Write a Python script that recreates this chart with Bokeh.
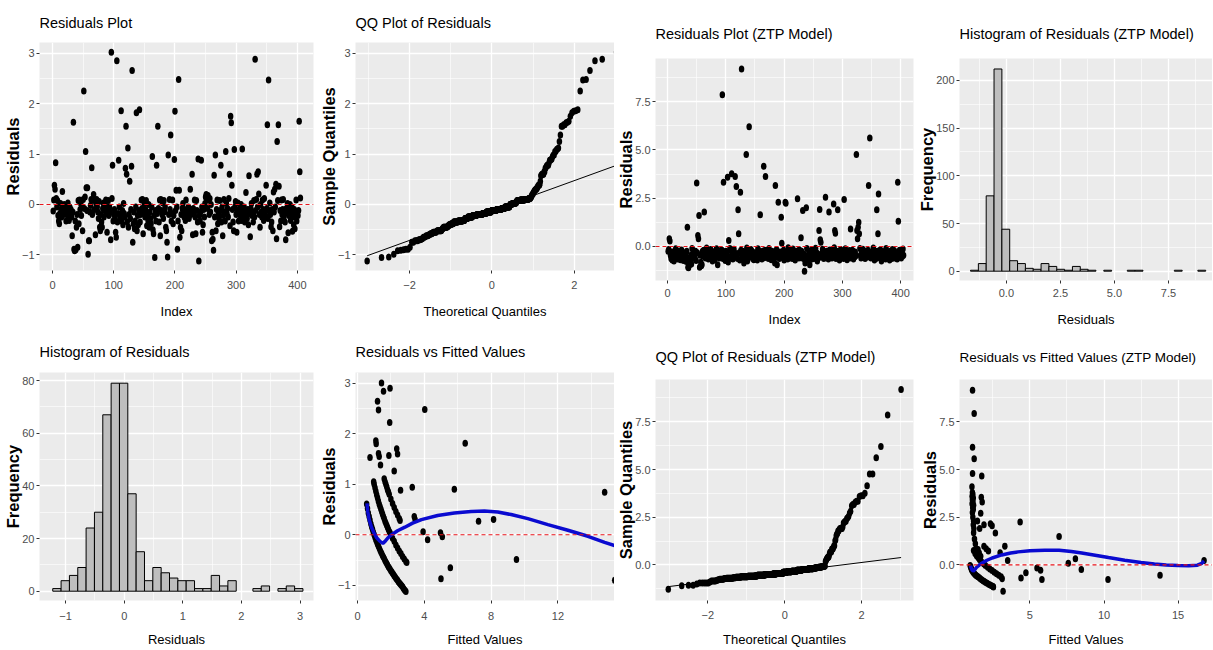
import numpy as np
from statistics import NormalDist
from bokeh.plotting import figure
from bokeh.layouts import row, column
from bokeh.models import FixedTicker, Range1d, Span, PrintfTickFormatter
from bokeh.embed import file_html
from bokeh.resources import INLINE

# ---------------- data ----------------
# Residuals of the first model, in observation (index) order
glm_residuals = [
    -0.13, 0.09, 0.38, 0.30, 0.83, 0.12, -0.05, 0.08, -0.22, -0.33,
    -0.38, -0.18, 0.02, -0.10, -0.25, 0.26, -0.12, -0.20, 0.00, -0.15,
    -0.08, -0.33, -0.20, -0.12, 0.03, -0.28, -0.32, -0.05, -0.18, -0.10,
    -0.25, -0.62, -0.15, 1.63, -0.89, -0.92, -0.33, -0.90, -0.45, -0.20,
    -0.85, 0.08, -0.38, 0.09, -0.10, 0.02, -0.22, -0.05, -0.52, 0.10,
    2.25, -0.08, 0.15, 1.05, 0.33, -0.12, 0.33, -0.99, -0.72, -0.72,
    -0.15, -0.02, 0.10, 0.73, -0.20, 0.09, 0.20, -0.10, 0.08, -0.60,
    0.02, 0.10, -0.05, -0.15, -0.28, 0.06, -0.45, -0.52, -0.20, -0.35,
    -0.45, -0.08, 0.03, -0.25, -0.12, 0.00, 0.09, -0.18, -0.55, -0.10,
    0.08, -0.22, -0.05, -0.15, -0.70, 3.02, 0.12, 0.78, -0.33, -0.20,
    -0.10, -0.25, -0.55, -0.65, 2.85, -0.35, -0.18, 0.88, -0.05, -0.28,
    -0.22, 1.86, -0.33, -0.12, -0.40, 0.02, -0.18, -0.25, 0.72, 1.55,
    0.60, -0.35, 1.12, -0.45, -0.20, 0.46, -0.28, -0.10, 0.76, 2.66,
    -0.75, -0.38, -0.15, -0.48, -0.33, -0.05, 1.82, -0.52, -0.22, -0.40,
    -0.12, 1.88, -0.35, -0.20, 0.09, -0.08, 0.10, -0.58, -0.15, 0.02,
    -0.25, -0.10, 0.08, -0.42, -0.20, -0.32, 0.00, -0.45, -0.15, -0.28,
    -0.38, -0.05, 0.95, -0.50, -0.58, -0.22, -1.05, -0.12, -0.33, 0.78,
    -0.18, 1.55, -0.08, -0.35, 0.09, -0.62, 0.10, -0.12, -0.20, 0.03,
    -0.28, 0.08, -0.15, -0.05, -0.45, -0.52, -0.75, -1.04, 0.98, -0.20,
    0.10, -0.10, 1.38, -0.33, -0.18, 0.09, -0.38, -0.22, 0.89, 1.85,
    -0.12, 0.28, -0.05, -0.89, -0.33, 2.48, 0.28, -0.65, -0.45, -0.20,
    -0.52, -0.08, 0.02, -0.15, -0.25, -0.10, -0.32, 0.09, -0.18, -0.12,
    -0.22, -0.05, -0.28, -0.15, 0.30, -0.20, -0.10, 0.60, -0.60, -0.08,
    -0.18, 0.09, -0.25, -0.58, 0.08, -0.12, -0.35, 0.90, -1.12, -0.22,
    -0.33, -0.15, 0.88, -0.05, -0.55, -0.40, -0.10, -0.25, 0.02, 0.15,
    0.20, 0.10, -0.08, 0.18, 0.09, -0.20, 0.12, -0.15, 0.00, -0.72,
    -0.55, -0.69, -0.91, 0.58, -0.25, 0.98, -0.52, -0.10, 0.09, -0.38,
    -0.20, -0.28, 0.08, -0.12, 0.78, -0.35, -0.05, -0.62, -0.22, 0.10,
    -0.15, -0.33, 1.05, 0.02, -0.18, -0.08, -0.25, 0.12, 0.60, -0.42,
    1.75, 1.62, 0.38, -0.10, -0.35, -0.52, 1.09, -0.05, 0.06, -0.20,
    -0.55, -0.12, 0.03, -0.33, -0.18, -0.08, -0.22, 0.00, -0.32, 1.10,
    -0.15, -0.25, -0.05, -0.35, -0.12, 0.24, -0.20, -0.28, -0.10, -0.40,
    0.57, -0.18, -0.64, -0.08, 0.02, -0.22, -0.15, -0.35, 0.08, -0.25,
    2.88, -0.12, 0.10, 0.60, -0.05, 0.65, 0.21, -0.20, -0.45, 0.00,
    -0.15, -0.25, 0.09, -0.10, -0.32, 0.12, -0.18, -0.22, 0.38, -0.08,
    1.58, -0.28, 2.47, -0.12, 0.03, -0.20, -0.44, -0.35, -0.10, -0.52,
    0.25, -0.15, 0.30, -0.05, 0.40, -0.68, 1.25, 0.08, 1.58, 0.36,
    -0.44, -0.12, -0.33, 0.09, -0.20, -0.10, 0.10, -0.25, -0.18, -0.35,
    -0.70, -0.08, -0.15, 0.02, -0.56, -0.22, -0.12, 0.00, -0.32, -0.18,
    -0.05, -0.53, -0.25, -0.40, -0.10, -0.48, -0.20, 0.09, -0.33, -0.15,
    -0.22, -0.12, 1.65, 0.65, 0.13,
]

# Residuals of the ZTP model, in observation (index) order
ztp_residuals = [
    -0.24, -0.15, 0.40, 0.28, -0.45, -0.62, -0.29, -0.70, -0.36, -0.50,
    -0.75, -0.24, -0.45, -0.12, -0.55, -0.33, -0.65, -0.39, -0.24, -0.50,
    -0.29, -0.68, -0.45, -0.18, -0.52, -0.36, -0.72, -0.33, -0.48, -0.60,
    -0.39, -0.78, -0.24, 1.00, -1.07, -1.10, -0.60, -0.95, -0.85, -0.45,
    -0.90, -0.10, -0.62, -0.21, -0.50, -0.36, -0.55, -0.24, -0.72, 3.28,
    -0.33, 0.57, 0.40, 1.60, -1.07, -0.45, -0.82, -1.00, -0.95, -0.24,
    -0.50, -0.20, 1.78, -0.29, -0.60, -0.39, -0.08, -0.48, -0.33, -0.65,
    -0.36, -0.21, -0.50, -0.15, -0.62, -0.24, -0.75, -0.70, -0.45, -0.58,
    -0.68, -0.29, -0.39, -0.12, -0.55, -0.95, -0.24, -0.48, -0.60, -0.33,
    -0.21, -0.50, -0.18, 7.86, -0.62, 3.33, -0.29, -0.45, -0.72, -0.24,
    -0.48, -0.33, 3.59, -0.80, 0.31, -0.60, -0.10, -0.21, -0.52, 3.76,
    -0.29, -0.65, -0.45, -0.14, -0.55, 3.62, -0.36, 3.10, -0.50, -0.62,
    1.90, 0.66, -0.33, -0.70, 2.81, -0.20, 9.19, -0.55, -0.24, -0.58,
    -0.85, -0.39, -0.60, -0.29, 4.76, -0.08, -0.75, -0.55, -0.36, 6.20,
    -0.33, -0.52, -0.16, -0.45, -0.25, -0.62, -0.36, -0.68, -0.33, -0.50,
    -0.45, -0.60, -0.33, -0.70, -0.12, -0.21, -0.50, -0.29, 1.64, -0.55,
    -0.36, -0.65, -0.24, -0.48, 4.15, -0.58, -0.19, 3.62, -0.45, -0.21,
    -0.52, -0.36, -0.62, -0.10, -0.45, -0.55, -0.33, -0.68, -0.25, -0.50,
    -0.39, -0.29, -0.60, -0.85, 3.16, -0.48, -0.15, -0.95, -0.55, 2.29,
    -0.36, -0.62, -0.29, -0.50, 1.52, 0.17, -0.45, -0.58, -0.20, -0.70,
    -0.39, 2.29, 2.24, -0.55, -0.33, -0.65, -0.06, -0.48, -0.60, -0.29,
    -0.50, -0.21, -0.45, -0.62, -0.13, -0.55, -0.33, -0.48, -0.70, -0.33,
    -0.24, -0.52, 2.47, -0.45, -0.60, -0.17, -0.36, -0.58, 0.45, -0.24,
    -0.50, 1.86, -0.62, -0.39, -1.28, -0.85, -0.55, 2.00, -0.11, -0.70,
    -0.45, -0.60, -0.24, -0.95, -0.52, -0.36, -0.20, -0.65, -0.48, -0.21,
    -0.55, -0.39, -0.62, -0.09, -0.50, -0.33, -0.75, -0.45, -0.60, 0.83,
    1.91, 0.35, 0.22, -0.36, -0.55, -0.14, -0.48, -0.62, -0.29, -0.45,
    2.55, -0.58, -0.24, -0.50, -0.39, -0.65, 1.78, -0.18, -0.55, -0.21,
    -0.45, -0.60, -0.29, -0.50, 2.20, -0.07, 0.83, 0.69, -0.62, -0.24,
    -0.48, 1.90, -0.55, -0.33, -0.70, -0.39, -0.16, -0.58, -0.45, -0.29,
    -0.50, -0.62, 2.43, -0.36, -0.12, -0.55, -0.45, -0.68, -0.29, -0.50,
    -0.39, -0.21, -0.60, 0.91, -0.33, -0.52, -0.19, -0.24, -0.65, -0.36,
    -0.55, -0.29, -0.48, 4.76, 0.83, 0.40, 1.00, 1.26, 0.66, -0.10,
    -0.45, -0.60, -0.33, -0.50, -0.14, -0.39, -0.55, -0.29, -0.62, -0.24,
    -0.48, -0.36, -0.55, -0.20, 3.16, -0.45, 5.62, -0.33, -0.60, -0.50,
    -0.29, -0.39, -0.08, -0.55, -0.70, -0.36, -0.50, -0.62, 1.90, -0.24,
    0.66, 2.72, -0.45, -0.58, -0.17, -0.50, -0.75, -0.24, -0.60, -0.39,
    -0.55, -0.29, -0.48, -0.65, -0.11, -0.45, -0.60, -0.36, -0.52, -0.33,
    -0.70, -0.24, -0.50, -0.39, -0.62, -0.15, -0.55, -0.45, -0.21, -0.60,
    -0.36, -0.50, -0.33, -0.65, 3.33, 1.31, -0.45, -0.20, -0.55, -0.39,
    -0.60, -0.29, -0.50, -0.13, -0.45,
]

# Histogram bar heights (30 bins) and the span covered by the bars
glm_hist_counts = [1, 4, 6, 9, 24, 30, 67, 79, 79, 37, 15, 4, 9, 7, 5,
                   4, 4, 1, 1, 6, 2, 4, 0, 0, 1, 2, 0, 1, 2, 1]
glm_hist_span = [-1.22, 3.05]
ztp_hist_counts = [1, 8, 79, 212, 44, 11, 8, 3, 2, 8, 5, 2, 1, 5, 2,
                   1, 0, 1, 0, 0, 1, 1, 0, 0, 0, 0, 1, 0, 0, 1]
ztp_hist_span = [-1.66, 9.22]

# Residuals vs fitted values: (fitted, residual) as seen in the picture
glm_vs_fitted = [
    (0.55, 0.61), (0.60, 0.52), (0.65, 0.43), (0.70, 0.36), (0.75, 0.29), (0.80, 0.22),
    (0.85, 0.16), (0.90, 0.11), (0.95, 0.05), (1.00, 0.00), (1.05, -0.05), (1.10, -0.10),
    (1.15, -0.14), (1.20, -0.18), (1.25, -0.22), (1.30, -0.26), (1.35, -0.30), (1.40, -0.34),
    (1.45, -0.37), (1.50, -0.41), (1.55, -0.44), (1.60, -0.47), (1.65, -0.51), (1.70, -0.54),
    (1.75, -0.57), (1.80, -0.60), (1.85, -0.63), (1.90, -0.65), (1.95, -0.68), (2.00, -0.71),
    (2.05, -0.73), (2.10, -0.76), (2.15, -0.78), (2.20, -0.81), (2.25, -0.83), (2.30, -0.86),
    (2.35, -0.88), (2.40, -0.90), (2.45, -0.93), (2.50, -0.95), (2.55, -0.97), (2.60, -0.99),
    (2.65, -1.01), (2.70, -1.03), (2.75, -1.06), (2.80, -1.08), (2.85, -1.10), (2.90, -1.12),
    (0.97, 1.05), (1.00, 1.00), (1.05, 0.93), (1.10, 0.86), (1.15, 0.79), (1.20, 0.73),
    (1.25, 0.67), (1.30, 0.61), (1.35, 0.56), (1.40, 0.51), (1.45, 0.46), (1.50, 0.41),
    (1.55, 0.36), (1.60, 0.32), (1.65, 0.27), (1.70, 0.23), (1.75, 0.19), (1.80, 0.15),
    (1.85, 0.11), (1.90, 0.07), (1.95, 0.04), (2.00, 0.00), (2.10, -0.07), (2.20, -0.13),
    (2.30, -0.20), (2.40, -0.26), (2.50, -0.32), (2.60, -0.37), (2.70, -0.43), (2.80, -0.48),
    (2.90, -0.53), (2.95, -0.55),
    (1.60, 1.11), (1.65, 1.05), (1.70, 1.00), (1.75, 0.95), (1.80, 0.89), (1.85, 0.85),
    (1.90, 0.80), (2.00, 0.71), (2.10, 0.62), (2.20, 0.54), (2.30, 0.46), (2.40, 0.39),
    (2.50, 0.32), (2.55, 0.28),
    (1.44, 3.00), (1.56, 2.84), (1.95, 2.90), (1.20, 2.64), (1.26, 2.47), (1.93, 2.22),
    (4.03, 2.48), (1.10, 1.86), (1.12, 1.80), (0.75, 1.53), (1.26, 1.61), (1.30, 1.55),
    (1.88, 1.57), (1.38, 1.38), (2.35, 1.70), (2.40, 1.60), (2.20, 1.26), (6.45, 1.81),
    (2.58, 0.88), (3.28, 0.94), (5.80, 0.90), (7.25, 0.27), (8.15, 0.30), (3.40, 0.36),
    (3.45, 0.30), (3.93, 0.06), (4.20, -0.10), (4.97, 0.04), (5.08, -0.04), (5.00, -0.87),
    (5.56, -0.65), (9.52, -0.49), (14.80, 0.84), (15.40, -0.90),
]
glm_smooth = [
    (0.57, 0.62), (0.62, 0.45), (0.70, 0.30), (0.85, 0.14), (1.00, 0.03), (1.15, -0.06),
    (1.35, -0.13), (1.52, -0.17), (1.65, -0.13), (1.80, -0.07), (2.00, -0.01), (2.40, 0.08),
    (2.84, 0.15), (3.30, 0.23), (3.83, 0.30), (4.80, 0.38), (5.80, 0.43), (6.80, 0.46),
    (7.60, 0.47), (8.40, 0.45), (9.20, 0.40), (10.20, 0.32), (11.40, 0.20), (12.60, 0.09),
    (13.80, -0.03), (14.80, -0.15), (15.45, -0.22),
]

ztp_vs_fitted = [
    (1.13, 9.15), (1.24, 7.94), (1.13, 6.17), (1.24, 5.57), (1.13, 4.79), (1.09, 4.10),
    (1.12, 3.80), (1.15, 3.70), (1.10, 3.60), (1.18, 3.50), (1.12, 3.42), (1.16, 3.30),
    (1.10, 3.20), (1.20, 3.12), (1.14, 3.00), (1.18, 2.90), (1.12, 2.75), (1.15, 2.50),
    (1.20, 2.30), (1.18, 2.10), (1.22, 1.90), (1.20, 1.68), (1.26, 1.35), (1.32, 1.10),
    (1.38, 0.85),
    (1.75, 4.66), (1.72, 3.55), (1.78, 3.30), (1.68, 2.70),
    (1.46, 2.30), (1.90, 2.10), (1.61, 1.90), (2.34, 2.16), (2.45, 2.05), (2.67, 1.67),
    (1.90, 0.98), (2.05, 0.85), (2.20, 0.72), (1.50, 0.80), (1.58, 0.62), (1.68, 0.45),
    (4.34, 2.25), (6.97, 1.49), (3.31, 0.97), (2.99, 0.63), (3.50, 0.23), (4.40, -0.69),
    (4.73, -0.42), (5.48, -0.16), (5.72, -0.28), (5.81, -0.77), (7.59, 0.09), (8.07, 0.32),
    (8.47, -0.24), (10.27, -0.77), (13.78, -0.55), (16.75, 0.23), (3.13, -0.73),
    (3.19, -1.39), (2.54, -1.16),
    (0.97, -0.03), (1.00, -0.10), (1.03, -0.17), (1.06, -0.24), (1.10, -0.30), (1.15, -0.36),
    (1.20, -0.41), (1.25, -0.46), (1.30, -0.50), (1.36, -0.54), (1.42, -0.58), (1.50, -0.63),
    (1.58, -0.68), (1.66, -0.73), (1.75, -0.78), (1.84, -0.83), (1.93, -0.88), (2.02, -0.92),
    (2.12, -0.97), (2.22, -1.02), (2.32, -1.06), (2.42, -1.10), (2.52, -1.14),
    (1.20, 0.75), (1.30, 0.60), (1.40, 0.48), (1.50, 0.38), (1.60, 0.28), (1.70, 0.19),
    (1.80, 0.11), (1.90, 0.04), (2.00, -0.03), (2.15, -0.13), (2.30, -0.22), (2.45, -0.30),
    (2.60, -0.39), (2.75, -0.47), (2.90, -0.55), (3.05, -0.63),
]
ztp_smooth = [
    (0.99, -0.05), (1.08, -0.25), (1.17, -0.33), (1.28, -0.25), (1.39, -0.14), (1.60, 0.00),
    (1.78, 0.10), (2.10, 0.24), (2.45, 0.36), (3.10, 0.52), (3.70, 0.62), (4.20, 0.68),
    (5.00, 0.74), (6.00, 0.76), (6.97, 0.76), (7.80, 0.70), (8.50, 0.62), (9.50, 0.49),
    (10.30, 0.38), (11.40, 0.24), (12.50, 0.12), (13.40, 0.04), (14.20, -0.01), (15.00, -0.04),
    (15.70, -0.05), (16.30, -0.02), (16.60, 0.08), (16.75, 0.20),
]

# Tick values
index_ticks = [0, 100, 200, 300, 400]
unit_ticks = [-1, 0, 1, 2, 3]
qq_ticks = [-2, 0, 2]
ztp_resid_ticks = [0, 2.5, 5.0, 7.5]
ztp_freq_ticks = [0, 50, 100, 150, 200]
glm_freq_ticks = [0, 20, 40, 60, 80]
glm_fitted_ticks = [0, 4, 8, 12]
ztp_fitted_ticks = [5, 10, 15]

# ---------------- layout helpers ----------------
SANS = "Liberation Sans"


def mids(ticks, lo, hi):
    step = ticks[1] - ticks[0]
    out = []
    v = ticks[0] - step / 2
    while v <= hi:
        if v >= lo:
            out.append(v)
        v += step
    return out


def make_panel(col, rowy, frame, xr, yr, xticks, yticks, title, xlabel, ylabel,
               title_standoff, tick_standoff, label_standoff, xfmt=None, yfmt=None,
               title_size="14.5px"):
    cx0, cx1 = col
    cy0, cy1 = rowy
    L, T, R, B = frame
    p = figure(width=cx1 - cx0, height=cy1 - cy0,
               x_range=Range1d(*xr), y_range=Range1d(*yr),
               min_border_left=L - cx0, min_border_right=cx1 - R,
               min_border_top=T - cy0, min_border_bottom=cy1 - B,
               output_backend="svg", toolbar_location=None, title=title)
    p.background_fill_color = "#EBEBEB"
    p.border_fill_color = "white"
    p.outline_line_color = None
    p.title.text_font = SANS
    p.title.text_font_size = title_size
    p.title.text_font_style = "normal"
    p.title.text_color = "black"
    p.title.align = "left"
    p.title.standoff = title_standoff
    p.xaxis.ticker = FixedTicker(ticks=xticks, minor_ticks=mids(xticks, *xr))
    p.yaxis.ticker = FixedTicker(ticks=yticks, minor_ticks=mids(yticks, *yr))
    if xfmt:
        p.xaxis.formatter = PrintfTickFormatter(format=xfmt)
    if yfmt:
        p.yaxis.formatter = PrintfTickFormatter(format=yfmt)
    p.xaxis.axis_label = xlabel
    p.yaxis.axis_label = ylabel
    for ax in (p.xaxis[0], p.yaxis[0]):
        ax.axis_line_color = None
        ax.major_tick_line_color = "#333333"
        ax.major_tick_line_width = 1
        ax.major_tick_out = 3
        ax.major_tick_in = 0
        ax.minor_tick_line_color = None
        ax.major_label_text_font = SANS
        ax.major_label_text_font_size = "11px"
        ax.major_label_text_color = "#4D4D4D"
    p.xaxis.major_label_standoff = tick_standoff
    p.xaxis.axis_label_standoff = label_standoff
    p.xaxis.axis_label_text_font = SANS
    p.xaxis.axis_label_text_font_size = "13px"
    p.xaxis.axis_label_text_font_style = "normal"
    p.xaxis.axis_label_text_color = "black"
    p.yaxis.major_label_standoff = 1
    p.yaxis.axis_label_standoff = -3
    p.yaxis.axis_label_text_font = SANS
    p.yaxis.axis_label_text_font_size = "16.5px"
    p.yaxis.axis_label_text_font_style = "bold"
    p.yaxis.axis_label_text_color = "black"
    p.grid.grid_line_color = "white"
    p.grid.grid_line_width = 1.3
    p.grid.minor_grid_line_color = "white"
    p.grid.minor_grid_line_width = 0.6
    return p


def dots(p, x, y):
    p.ellipse(x=list(x), y=list(y), width=5.5, height=7, width_units="screen",
              height_units="screen", fill_color="black", line_color=None)


def zero_line(p):
    p.add_layout(Span(location=0, dimension="width", line_color="#E8141B",
                      line_dash="4 3", line_width=1.1))


def qq(values):
    s = np.sort(np.asarray(values, dtype=float))
    n = len(s)
    nd = NormalDist()
    theo = np.array([nd.inv_cdf((i + 0.5) / n) for i in range(n)])
    q1, q3 = np.quantile(s, [0.25, 0.75])
    t1, t3 = nd.inv_cdf(0.25), nd.inv_cdf(0.75)
    slope = (q3 - q1) / (t3 - t1)
    inter = q1 - slope * t1
    xs = [theo[0], theo[-1]]
    return theo, s, xs, [inter + slope * v for v in xs]


def hist(p, counts, span):
    edges = np.linspace(span[0], span[1], len(counts) + 1)
    keep = [i for i, c in enumerate(counts) if c > 0]
    p.quad(left=[edges[i] for i in keep], right=[edges[i + 1] for i in keep],
           bottom=0, top=[counts[i] for i in keep],
           fill_color="#BEBEBE", line_color="black", line_width=1)


C1, C2, C3, C4 = (0, 316), (316, 614), (614, 915), (915, 1212)
RL1, RL2 = (0, 327), (327, 649)
RR1, RR2 = (0, 330), (330, 649)

# 1. Residuals Plot
p1 = make_panel(C1, RL1, (35, 42, 313, 270), (-21.4, 426.4), (-1.31, 3.214),
                index_ticks, unit_ticks, "Residuals Plot", "Index", "Residuals",
                23, 6, 12)
dots(p1, range(1, len(glm_residuals) + 1), glm_residuals)
zero_line(p1)

# 2. QQ Plot of Residuals
p2 = make_panel(C2, RL1, (352, 42, 614, 270), (-3.31, 2.976), (-1.31, 3.214),
                qq_ticks, unit_ticks, "QQ Plot of Residuals", "Theoretical Quantiles",
                "Sample Quantiles", 23, 6, 12)
tx, sq, lx, ly = qq(glm_residuals)
dots(p2, tx, sq)
p2.line(lx, ly, line_color="black", line_width=1)

# 5. Histogram of Residuals
p5 = make_panel(C1, RL2, (37, 372, 313, 600), (-1.446, 3.23), (-3.53, 83.06),
                unit_ticks, glm_freq_ticks, "Histogram of Residuals", "Residuals",
                "Frequency", 25, 7, 9)
hist(p5, glm_hist_counts, glm_hist_span)

# 6. Residuals vs Fitted Values
p6 = make_panel(C2, RL2, (352, 372, 614, 600), (-0.118, 15.39), (-1.30, 3.21),
                glm_fitted_ticks, unit_ticks, "Residuals vs Fitted Values", "Fitted Values",
                "Residuals", 25, 7, 9)
gx, gy = zip(*glm_vs_fitted)
dots(p6, gx, gy)
sx6, sy6 = zip(*glm_smooth)
p6.line(list(sx6), list(sy6), line_color="#0A0AD0", line_width=3.5)
zero_line(p6)

# 3. Residuals Plot (ZTP Model)
p3 = make_panel(C3, RR1, (650, 58, 913, 280), (-20.7, 422.0), (-1.76, 9.73),
                index_ticks, ztp_resid_ticks, "Residuals Plot (ZTP Model)", "Index",
                "Residuals", 34, 4, 12, yfmt="%.1f")
dots(p3, range(1, len(ztp_residuals) + 1), ztp_residuals)
zero_line(p3)

# 4. Histogram of Residuals (ZTP Model)
p4 = make_panel(C4, RR1, (955, 58, 1212, 280), (-2.17, 9.535), (-9.75, 223.0),
                ztp_resid_ticks, ztp_freq_ticks, "Histogram of Residuals (ZTP Model)",
                "Residuals", "Frequency", 34, 4, 12, xfmt="%.1f")
hist(p4, ztp_hist_counts, ztp_hist_span)

# 7. QQ Plot of Residuals (ZTP Model)
p7 = make_panel(C3, RR2, (650, 379, 913, 602), (-3.36, 3.35), (-1.87, 9.72),
                qq_ticks, ztp_resid_ticks, "QQ Plot of Residuals (ZTP Model)",
                "Theoretical Quantiles", "Sample Quantiles", 29, 6, 10, yfmt="%.1f")
tx7, sq7, lx7, ly7 = qq(ztp_residuals)
dots(p7, tx7, sq7)
p7.line(lx7, ly7, line_color="black", line_width=1)

# 8. Residuals vs Fitted Values (ZTP Model)
p8 = make_panel(C4, RR2, (953, 379, 1212, 602), (0.25, 17.32), (-1.87, 9.72),
                ztp_fitted_ticks, ztp_resid_ticks, "Residuals vs Fitted Values (ZTP Model)",
                "Fitted Values", "Residuals", 29, 6, 10, yfmt="%.1f", title_size="13.5px")
zx, zy = zip(*ztp_vs_fitted)
dots(p8, zx, zy)
sx8, sy8 = zip(*ztp_smooth)
p8.line(list(sx8), list(sy8), line_color="#0A0AD0", line_width=3.5)
zero_line(p8)

layout = row(column(p1, p5), column(p2, p6), column(p3, p7), column(p4, p8))

open("out.html", "w").write(file_html(layout, INLINE, title="Residual diagnostics"))
